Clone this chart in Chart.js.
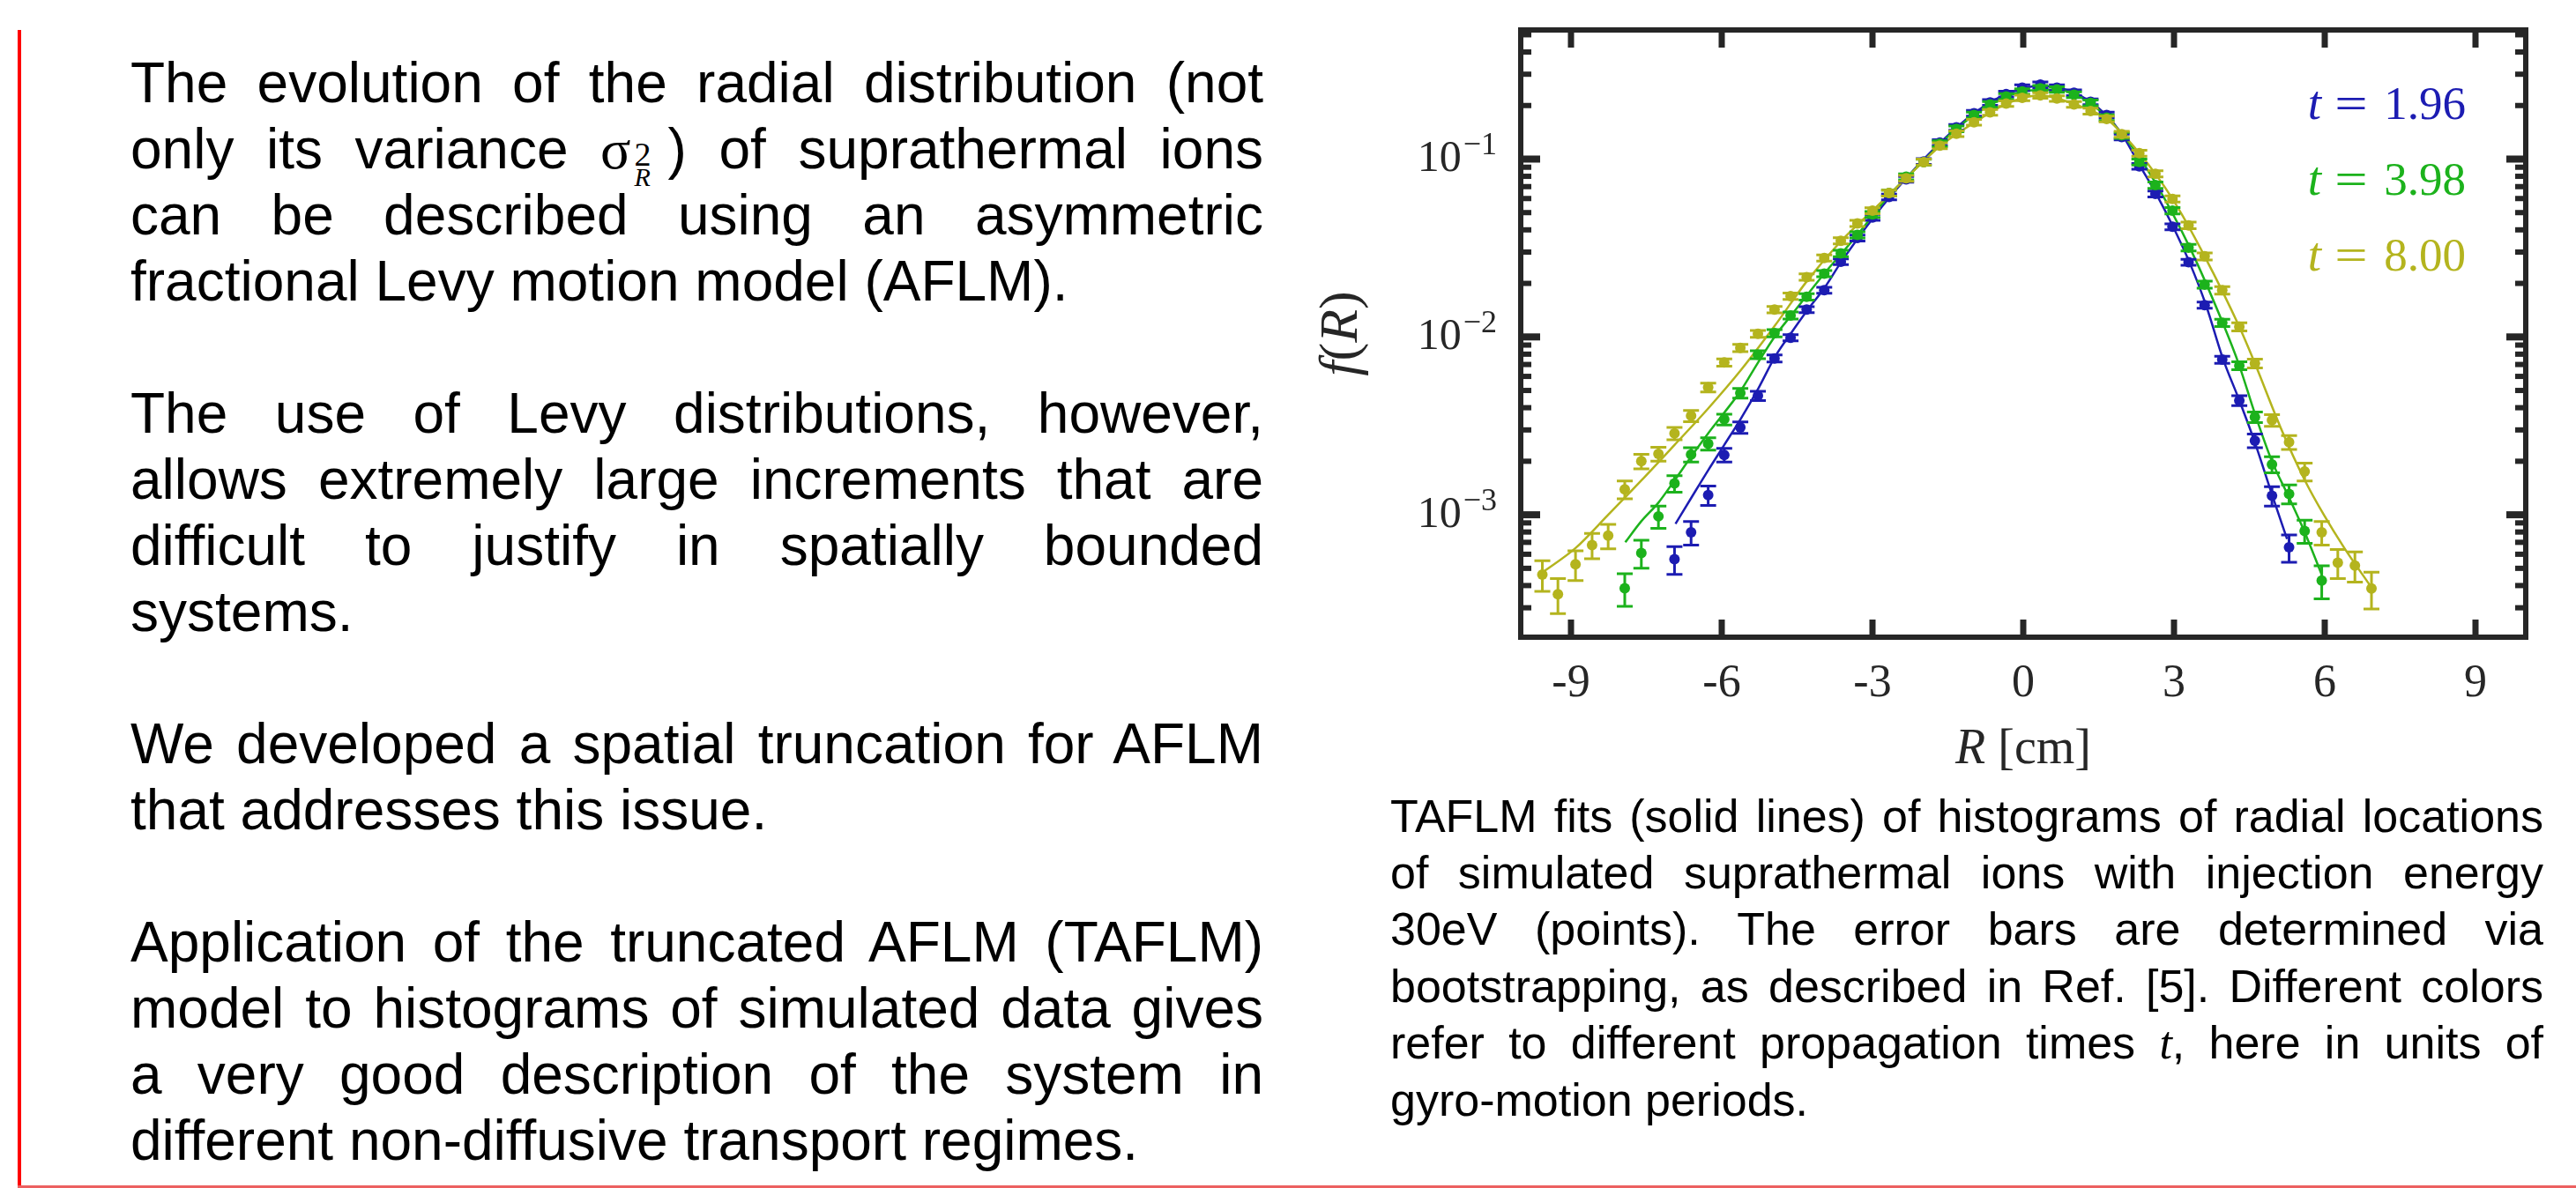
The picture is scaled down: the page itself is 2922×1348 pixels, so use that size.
<!DOCTYPE html>
<html lang="en">
<head>
<meta charset="UTF-8">
<meta name="viewport" content="width=device-width, initial-scale=1.0">
<title>TAFLM fits</title>
<script src="https://cdn.jsdelivr.net/npm/chart.js"></script>
<style>
  body { margin: 0; width: 2922px; height: 1348px; position: relative; overflow: hidden; background: #fff; }
  .redLeft { position: absolute; left: 20px; top: 34px; width: 4px; height: 1314px; background: #ff0000; }
  .redBottom { position: absolute; left: 20px; top: 1345px; width: 2902px; height: 3px; background: #ec6060; }
  .texto { position: absolute; left: 148px; top: 57px; width: 1285px; font-family: "Liberation Sans", Arial, sans-serif; font-size: 64px; line-height: 75px; text-align: justify; color: #000; }
  .texto p { margin: 0 0 75px 0; }
  .sigma { font-family: "Liberation Serif", serif; }
  .supsub { display: inline-block; position: relative; width: 42px; height: 1px; }
  .supsub .sp { position: absolute; left: 4px; bottom: -3px; font-family: "Liberation Serif", serif; font-size: 38px; line-height: 38px; }
  .supsub .sb { position: absolute; left: 4px; top: -4px; font-family: "Liberation Serif", serif; font-style: italic; font-size: 30px; line-height: 30px; }
  .legenda { position: absolute; left: 1577px; top: 894px; width: 1308px; font-family: "Liberation Sans", Arial, sans-serif; font-size: 52px; line-height: 64.2px; text-align: justify; color: #000; }
  .tt { font-family: "Liberation Serif", serif; font-style: italic; }
  .grafico { position: absolute; left: 1480px; top: 0; width: 1442px; height: 900px; }
</style>
</head>
<body>

<div class="redLeft"></div>
<div class="redBottom"></div>

<div class="texto">
  <p>The evolution of the radial distribution (not only its variance <span class="sigma">σ</span><span class="supsub"><span class="sp">2</span><span class="sb">R</span></span>) of suprathermal ions can be described using an asymmetric fractional Levy motion model (AFLM).</p>
  <p>The use of Levy distributions, however, allows extremely large increments that are difficult to justify in spatially bounded systems.</p>
  <p>We developed a spatial truncation for AFLM that addresses this issue.</p>
  <p>Application of the truncated AFLM (TAFLM) model to histograms of simulated data gives a very good description of the system in different non-diffusive transport regimes.</p>
</div>

<div class="grafico">
  <canvas id="graficoCanvas"></canvas>
</div>

<div class="legenda">TAFLM fits (solid lines) of histograms of radial locations of simulated suprathermal ions with injection energy 30eV (points). The error bars are determined via bootstrapping, as described in Ref. [5]. Different colors refer to different propagation times <span class="tt">t</span>, here in units of gyro-motion periods.</div>

<script>
// posicoes radiais dos bins do histograma (cm)
const rBins = [-9.57, -9.26, -8.91, -8.58, -8.26, -7.93, -7.60, -7.26, -6.94, -6.61, -6.27, -5.95, -5.63, -5.28, -4.95,
               -4.63, -4.31, -3.96, -3.63, -3.30, -3.00, -2.67, -2.33, -1.98, -1.66, -1.33, -0.98, -0.66, -0.34, -0.02,
               0.34, 0.67, 1.01, 1.34, 1.66, 1.96, 2.31, 2.63, 2.97, 3.29, 3.61, 3.96, 4.30, 4.61, 4.95, 5.29, 5.60, 5.94, 6.26, 6.60, 6.93];

// t = 1.96
const blueF = [null, null, null, null, null, null, null, null, 5.62e-4, 7.96e-4, 1.29e-3, 2.17e-3, 3.10e-3, 4.67e-3, 7.57e-3,
               9.9e-3, 0.01426, 0.0183, 0.0265, 0.036, 0.047, 0.0613, 0.077, 0.097, 0.124, 0.151, 0.181, 0.208, 0.232, 0.252,
               0.262, 0.252, 0.236, 0.210, 0.177, 0.133, 0.091, 0.0637, 0.0416, 0.0263, 0.0151, 7.45e-3, 4.39e-3, 2.61e-3, 1.28e-3, 6.56e-4, null, null, null, null, null];
const blueErr = [null, null, null, null, null, null, null, null, 1e-4, 1.2e-4, 1.6e-4, 1.9e-4, 2.3e-4, 2.8e-4, 3.5e-4,
               4e-4, 5.5e-4, 7e-4, 1e-3, 1.4e-3, 1.8e-3, 2.3e-3, 2.9e-3, 3.6e-3, 4.6e-3, 5.6e-3, 6.7e-3, 7.7e-3, 8.6e-3, 9.3e-3,
               9.7e-3, 9.3e-3, 8.7e-3, 7.8e-3, 6.6e-3, 5e-3, 3.4e-3, 2.4e-3, 1.6e-3, 1e-3, 6e-4, 3.4e-4, 2.8e-4, 2.3e-4, 1.6e-4, 1.15e-4, null, null, null, null, null];

// t = 3.98
const greenF = [null, null, null, null, null, 3.86e-4, 6.1e-4, 9.8e-4, 1.5e-3, 2.18e-3, 2.51e-3, 3.44e-3, 4.83e-3, 7.95e-3, 0.0105,
                0.0132, 0.0168, 0.0227, 0.0295, 0.0375, 0.0488, 0.0644, 0.0795, 0.096, 0.122, 0.148, 0.177, 0.203, 0.225, 0.240,
                0.250, 0.246, 0.230, 0.207, 0.171, 0.136, 0.0963, 0.0714, 0.0513, 0.0318, 0.0197, 0.0120, 6.89e-3, 3.54e-3, 1.92e-3, 1.31e-3, 8.11e-4, 4.27e-4, null, null, null];
const greenErr = [null, null, null, null, null, 8e-5, 1.1e-4, 1.4e-4, 1.6e-4, 2e-4, 2e-4, 2.4e-4, 3e-4, 4e-4, 5e-4,
                6e-4, 7e-4, 9e-4, 1.2e-3, 1.5e-3, 1.9e-3, 2.5e-3, 3e-3, 3.7e-3, 4.6e-3, 5.5e-3, 6.5e-3, 7.4e-3, 8.2e-3, 8.7e-3,
                9e-3, 8.9e-3, 8.4e-3, 7.6e-3, 6.4e-3, 5.2e-3, 3.8e-3, 2.9e-3, 2.1e-3, 1.4e-3, 9e-4, 5.6e-4, 3.5e-4, 2.4e-4, 2e-4, 1.6e-4, 1.2e-4, 9e-5, null, null, null];

// t = 8.00
const oliveF = [4.61e-4, 3.58e-4, 5.27e-4, 6.76e-4, 7.64e-4, 1.39e-3, 2.0e-3, 2.2e-3, 2.87e-3, 3.6e-3, 5.2e-3, 7.18e-3, 8.67e-3, 0.0104, 0.01425,
                0.01694, 0.0217, 0.0278, 0.0347, 0.0435, 0.0513, 0.0644, 0.078, 0.0962, 0.119, 0.139, 0.161, 0.183, 0.205, 0.221,
                0.228, 0.219, 0.203, 0.186, 0.168, 0.138, 0.108, 0.0826, 0.0597, 0.0424, 0.0284, 0.0183, 0.0114, 7.1e-3, 3.4e-3, 2.56e-3, 1.75e-3, 7.96e-4, 5.38e-4, 5.18e-4, 3.85e-4];
const oliveErr = [9e-5, 8e-5, 1e-4, 1.1e-4, 1.2e-4, 1.6e-4, 1.9e-4, 2e-4, 2.3e-4, 2.6e-4, 3e-4, 3.4e-4, 4e-4, 4.6e-4, 6e-4,
                7e-4, 9e-4, 1.1e-3, 1.4e-3, 1.7e-3, 2e-3, 2.5e-3, 3e-3, 3.7e-3, 4.5e-3, 5.2e-3, 6e-3, 6.8e-3, 7.5e-3, 8e-3,
                8.2e-3, 8e-3, 7.5e-3, 7e-3, 6.3e-3, 5.3e-3, 4.2e-3, 3.3e-3, 2.4e-3, 1.8e-3, 1.3e-3, 9e-4, 6e-4, 4e-4, 2.6e-4, 2.3e-4, 2e-4, 1.2e-4, 1e-4, 1e-4, 9e-5];

// curvas de ajuste TAFLM
const blueFitR = [-6.92, -6.61, -6.27, -5.95, -5.62, -5.28, -4.94, -4.62, -4.29, -3.96, -3.63, -2.98, -2.33, -1.66, -0.99, -0.33,
                  0.33, 0.99, 1.65, 1.99, 2.32, 2.65, 2.98, 3.31, 3.64, 3.97, 4.30, 4.61, 4.95, 5.25];
const blueFitF = [8.9e-4, 1.24e-3, 1.78e-3, 2.47e-3, 3.47e-3, 5.08e-3, 7.73e-3, 0.0105, 0.0142, 0.0188, 0.0262, 0.047, 0.078, 0.123, 0.18, 0.232,
                  0.258, 0.238, 0.177, 0.134, 0.092, 0.0635, 0.0418, 0.0262, 0.0150, 7.6e-3, 4.4e-3, 2.55e-3, 1.3e-3, 7.3e-4];
const greenFitR = [-7.92, -7.60, -7.26, -6.94, -6.61, -6.27, -5.95, -5.62, -5.28, -4.94, -4.62, -3.96, -3.30, -2.66, -1.99, -1.33, -0.66, 0.0,
                   0.66, 1.32, 1.99, 2.65, 3.31, 3.97, 4.30, 4.61, 4.95, 5.29, 5.60, 5.94];
const greenFitF = [7.0e-4, 9.2e-4, 1.17e-3, 1.56e-3, 2.12e-3, 2.87e-3, 3.75e-3, 4.99e-3, 7.16e-3, 0.0101, 0.0132, 0.0227, 0.0375, 0.063, 0.097, 0.148, 0.202, 0.240,
                   0.246, 0.207, 0.136, 0.072, 0.032, 0.012, 6.9e-3, 3.7e-3, 2.0e-3, 1.25e-3, 8.0e-4, 4.6e-4];
const oliveFitR = [-9.54, -8.91, -8.26, -7.60, -6.94, -6.27, -5.62, -4.95, -4.31, -3.63, -2.98, -2.33, -1.66, -0.98, -0.33,
                   0.34, 0.99, 1.66, 2.31, 2.97, 3.61, 4.30, 4.61, 5.12, 5.59, 5.99, 6.39, 6.93];
const oliveFitF = [4.8e-4, 6.5e-4, 1.0e-3, 1.56e-3, 2.47e-3, 3.96e-3, 6.5e-3, 0.0115, 0.0205, 0.0345, 0.052, 0.078, 0.118, 0.160, 0.205,
                   0.228, 0.205, 0.168, 0.108, 0.0597, 0.0284, 0.0114, 7.1e-3, 3.1e-3, 1.59e-3, 9.9e-4, 6.5e-4, 3.9e-4];

// eixos
const xTickValues = [-9, -6, -3, 0, 3, 6, 9];
const xTickLabels = ['-9', '-6', '-3', '0', '3', '6', '9'];
const yMajorTicks = [1e-3, 1e-2, 1e-1];
const yTickExp = ['\u22123', '\u22122', '\u22121'];
const yMinorTicks = [3e-4, 4e-4, 5e-4, 6e-4, 7e-4, 8e-4, 9e-4,
                     2e-3, 3e-3, 4e-3, 5e-3, 6e-3, 7e-3, 8e-3, 9e-3,
                     2e-2, 3e-2, 4e-2, 5e-2, 6e-2, 7e-2, 8e-2, 9e-2,
                     2e-1, 3e-1, 4e-1, 5e-1];
const legendLabels = ['1.96', '3.98', '8.00'];

const corAzul = '#1c1cb2';
const corVerde = '#1cb21c';
const corOliva = '#b4b41e';
const legendColors = [corAzul, corVerde, corOliva];
const eixoCor = '#262626';
const serif = '"Liberation Serif", "Times New Roman", serif';

function pontos(valores, erros) {
    let pts = [];
    let errs = [];
    for (let i = 0; i < rBins.length; i++) {
        if (valores[i] !== null) {
            pts.push({ x: rBins[i], y: valores[i] });
            errs.push(erros[i]);
        }
    }
    return { pts: pts, errs: errs };
}

function curva(rs, fs) {
    return rs.map((r, i) => ({ x: r, y: fs[i] }));
}

function conjuntoPontos(valores, erros, cor) {
    const p = pontos(valores, erros);
    return {
        data: p.pts,
        errors: p.errs,
        showLine: false,
        borderColor: cor,
        backgroundColor: cor,
        pointRadius: 6,
        pointBorderWidth: 0,
        pointBackgroundColor: cor
    };
}

function conjuntoAjuste(rs, fs, cor) {
    return {
        data: curva(rs, fs),
        showLine: true,
        borderColor: cor,
        borderWidth: 2.5,
        pointRadius: 0,
        cubicInterpolationMode: 'monotone'
    };
}

// escreve pedacos de texto com estilos diferentes em sequencia
function textoMisto(ctx, partes, x, y, tamanho, alinhamento) {
    let total = 0;
    partes.forEach(p => {
        ctx.font = p[1] + ' ' + tamanho + 'px ' + serif;
        total += ctx.measureText(p[0]).width;
    });
    let inicio = alinhamento === 'center' ? x - total / 2 : x;
    ctx.textAlign = 'left';
    partes.forEach(p => {
        ctx.font = p[1] + ' ' + tamanho + 'px ' + serif;
        ctx.fillText(p[0], inicio, y);
        inicio += ctx.measureText(p[0]).width;
    });
}

const barrasEixos = {
    id: 'barrasEixos',
    beforeDatasetDraw(chart, args) {
        const ds = chart.data.datasets[args.index];
        if (!ds.errors) return;
        const ctx = chart.ctx;
        const x = chart.scales.x;
        const y = chart.scales.y;
        ctx.save();
        ctx.strokeStyle = ds.borderColor;
        ctx.lineWidth = 3;
        ds.data.forEach((p, i) => {
            const e = ds.errors[i];
            const px = x.getPixelForValue(p.x);
            const topo = y.getPixelForValue(p.y + e);
            const base = y.getPixelForValue(p.y - e);
            ctx.beginPath();
            ctx.moveTo(px, topo); ctx.lineTo(px, base);
            ctx.moveTo(px - 9, topo); ctx.lineTo(px + 9, topo);
            ctx.moveTo(px - 9, base); ctx.lineTo(px + 9, base);
            ctx.stroke();
        });
        ctx.restore();
    },
    afterDraw(chart) {
        const ctx = chart.ctx;
        const a = chart.chartArea;
        const x = chart.scales.x;
        const y = chart.scales.y;
        ctx.save();

        // ticks para dentro
        ctx.fillStyle = eixoCor;
        xTickValues.forEach(v => {
            const px = x.getPixelForValue(v);
            ctx.fillRect(px - 3.5, a.top, 7, 20);
            ctx.fillRect(px - 3.5, a.bottom - 20, 7, 20);
        });
        yMajorTicks.forEach(v => {
            const py = y.getPixelForValue(v);
            ctx.fillRect(a.left, py - 4, 22, 8);
            ctx.fillRect(a.right - 22, py - 4, 22, 8);
        });
        yMinorTicks.forEach(v => {
            const py = y.getPixelForValue(v);
            ctx.fillRect(a.left, py - 3, 12, 6);
            ctx.fillRect(a.right - 12, py - 3, 12, 6);
        });

        // moldura
        ctx.strokeStyle = eixoCor;
        ctx.lineWidth = 6;
        ctx.strokeRect(a.left, a.top, a.right - a.left, a.bottom - a.top);

        // rotulos do eixo x
        ctx.fillStyle = eixoCor;
        ctx.font = '52px ' + serif;
        ctx.textAlign = 'center';
        ctx.textBaseline = 'alphabetic';
        xTickValues.forEach((v, i) => ctx.fillText(xTickLabels[i], x.getPixelForValue(v), a.bottom + 67));

        // rotulos do eixo y (10 com expoente)
        yMajorTicks.forEach((v, i) => {
            const py = y.getPixelForValue(v);
            const xr = a.left - 27;
            ctx.textAlign = 'right';
            ctx.font = '36px ' + serif;
            ctx.fillText(yTickExp[i], xr, py - 5);
            const w = ctx.measureText(yTickExp[i]).width;
            ctx.font = '50px ' + serif;
            ctx.fillText('10', xr - w - 2, py + 14);
        });

        // titulos dos eixos
        textoMisto(ctx, [['R', 'italic'], [' [cm]', 'normal']], x.getPixelForValue(0), a.bottom + 143, 56, 'center');
        ctx.save();
        ctx.translate(a.left - 186, (a.top + a.bottom) / 2);
        ctx.rotate(-Math.PI / 2);
        textoMisto(ctx, [['f', 'italic'], ['(', 'normal'], ['R', 'italic'], [')', 'normal']], 0, 0, 62, 'center');
        ctx.restore();

        // legenda em texto colorido
        legendLabels.forEach((lab, i) => {
            const base = a.top + 101 + i * 86;
            ctx.fillStyle = legendColors[i];
            ctx.font = '53px ' + serif;
            ctx.textAlign = 'right';
            ctx.fillText(lab, a.right - 68, base);
            ctx.save();
            ctx.translate(a.right - 198, base);
            ctx.scale(1.25, 1);
            ctx.textAlign = 'center';
            ctx.fillText('=', 0, 0);
            ctx.restore();
            ctx.font = 'italic 55px ' + serif;
            ctx.textAlign = 'right';
            ctx.fillText('t', a.right - 232, base);
        });
        ctx.restore();
    }
};

const dados = {
    datasets: [
        conjuntoPontos(oliveF, oliveErr, corOliva),
        conjuntoPontos(greenF, greenErr, corVerde),
        conjuntoPontos(blueF, blueErr, corAzul),
        conjuntoAjuste(oliveFitR, oliveFitF, corOliva),
        conjuntoAjuste(greenFitR, greenFitF, corVerde),
        conjuntoAjuste(blueFitR, blueFitF, corAzul)
    ]
};

const config = {
    type: 'scatter',
    data: dados,
    options: {
        responsive: true,
        maintainAspectRatio: false,
        animation: false,
        layout: { padding: { left: 245, right: 57, top: 34, bottom: 177 } },
        plugins: {
            legend: { display: false },
            tooltip: { enabled: false }
        },
        scales: {
            x: { type: 'linear', min: -10, max: 10, display: false },
            y: { type: 'logarithmic', min: 2.05e-4, max: 0.532, display: false }
        }
    },
    plugins: [barrasEixos]
};

let meuGrafico = new Chart(document.getElementById('graficoCanvas'), config);
</script>
</body>
</html>
